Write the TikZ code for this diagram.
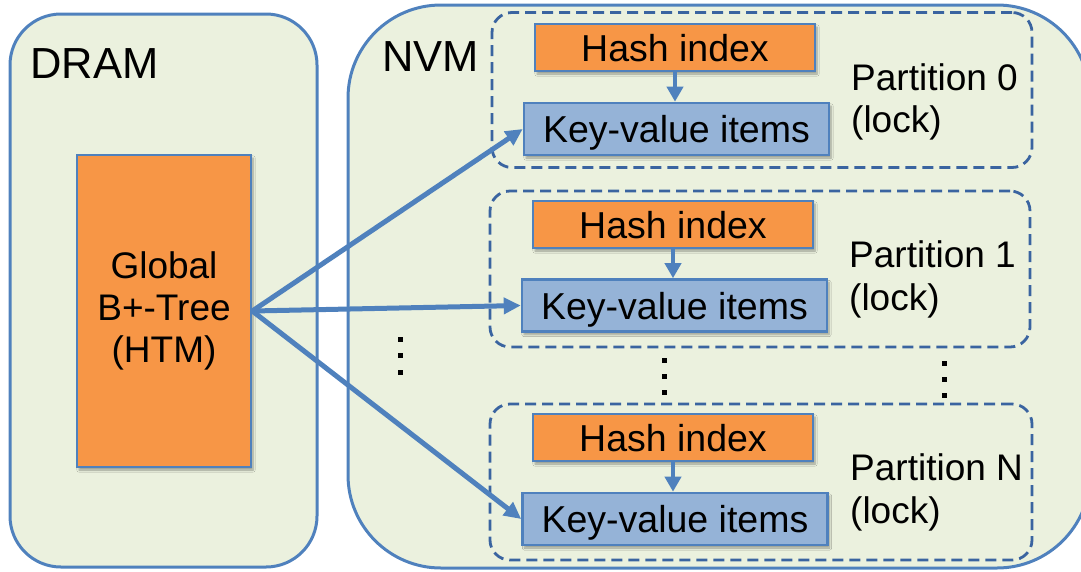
\documentclass[tikz,border=0pt]{standalone}
\usepackage{fontspec}
\setmainfont{Liberation Sans}
\usetikzlibrary{arrows.meta,shadows.blur}

\definecolor{memfill}{HTML}{EBF1DE}
\definecolor{memline}{HTML}{4F81BD}
\definecolor{orangefill}{HTML}{F79646}
\definecolor{bluefill}{HTML}{95B3D7}
\definecolor{dashline}{HTML}{3A64A0}

\tikzset{
  memory/.style={draw=memline, line width=3pt, fill=memfill, inner sep=0pt},
  partbox/.style={draw=dashline, line width=2.8pt, dash pattern=on 11pt off 6pt,
    rounded corners=20pt, inner sep=0pt},
  softshadow/.style={blur shadow={shadow xshift=2pt, shadow yshift=-3pt,
    shadow blur steps=6, shadow opacity=35}},
  block/.style={draw=memline, line width=2.6pt, inner sep=0pt, softshadow,
    font=\fontsize{37.5}{42}\selectfont, text height=27pt, text depth=0pt},
  hashbox/.style={block, fill=orangefill, minimum width=280pt, minimum height=47pt},
  kvbox/.style={block, fill=bluefill, minimum width=305pt, minimum height=52pt},
  treebox/.style={draw=memline, line width=2.6pt, fill=orangefill, inner sep=0pt, softshadow,
    minimum width=174pt, minimum height=312pt, align=center,
    font=\fontsize{37}{42}\selectfont},
  memlabel/.style={anchor=base west, inner sep=0pt, font=\fontsize{43.5}{50}\selectfont},
  partlabel/.style={anchor=base west, inner sep=0pt, font=\fontsize{37}{42}\selectfont},
  bigarrow/.style={draw=memline, line width=5pt, -{Triangle[length=17pt,width=16pt]}},
  smallarrow/.style={draw=memline, line width=4pt, -{Triangle[length=15pt,width=16pt]}},
  dotmark/.style={fill=black},
}

\begin{document}
\begin{tikzpicture}[x=1pt, y=-1pt]
\useasboundingbox (0,0) rectangle (1081,571);

% memory regions
\draw[memory, rounded corners=51pt] (10,14) rectangle (317,567);
\draw[memory, rounded corners=93pt] (348,5) rectangle (1090,568);
\node[memlabel] (dramlabel) at (30,78) {DRAM};
\node[memlabel] (nvmlabel) at (382,71) {NVM};

% partitions (dashed groups)
\node[partbox, minimum width=540pt, minimum height=155pt] (part0) at (762,90) {};
\node[partbox, minimum width=540pt, minimum height=156pt] (part1) at (760,269) {};
\node[partbox, minimum width=542pt, minimum height=156pt] (partN) at (761,482) {};

% global index in DRAM
\node[treebox] (tree) at (164,311) {Global\\B+-Tree\\(HTM)};

% per-partition structures
\node[hashbox] (hash0) at (675,47.5) {Hash index};
\node[kvbox]   (kv0)   at (676.5,129) {Key-value items};
\node[hashbox] (hash1) at (673,224.5) {Hash index};
\node[kvbox]   (kv1)   at (674.5,305.5) {Key-value items};
\node[hashbox] (hashN) at (673,437.5) {Hash index};
\node[kvbox]   (kvN)   at (675,519) {Key-value items};

% partition labels
\node[partlabel] (p0name) at (851,90)  {Partition 0};
\node[partlabel] (p0lock) at (851,132) {(lock)};
\node[partlabel] (p1name) at (849,267) {Partition 1};
\node[partlabel] (p1lock) at (849,310) {(lock)};
\node[partlabel] (pNname) at (850,480) {Partition N};
\node[partlabel] (pNlock) at (850,523) {(lock)};

% hash index -> key-value items
\draw[smallarrow] (hash0.south) -- (hash0.south |- kv0.north);
\draw[smallarrow] (hash1.south) -- (hash1.south |- kv1.north);
\draw[smallarrow] (hashN.south) -- (hashN.south |- kvN.north);

% global tree -> partitions
\draw[bigarrow] (tree.east) -- (kv0.west);
\draw[bigarrow] (tree.east) -- (kv1.west);
\draw[bigarrow] (tree.east) -- (kvN.west);

% vertical ellipses
\foreach \y in {339,355.5,372} \fill[dotmark] (397.5,\y-2.5) rectangle (402.5,\y+2.5);
\foreach \y in {360,376,392} \fill[dotmark] (661.5,\y-2.5) rectangle (666.5,\y+2.5);
\foreach \y in {363,379,395} \fill[dotmark] (941.5,\y-2.5) rectangle (946.5,\y+2.5);
\end{tikzpicture}
\end{document}
